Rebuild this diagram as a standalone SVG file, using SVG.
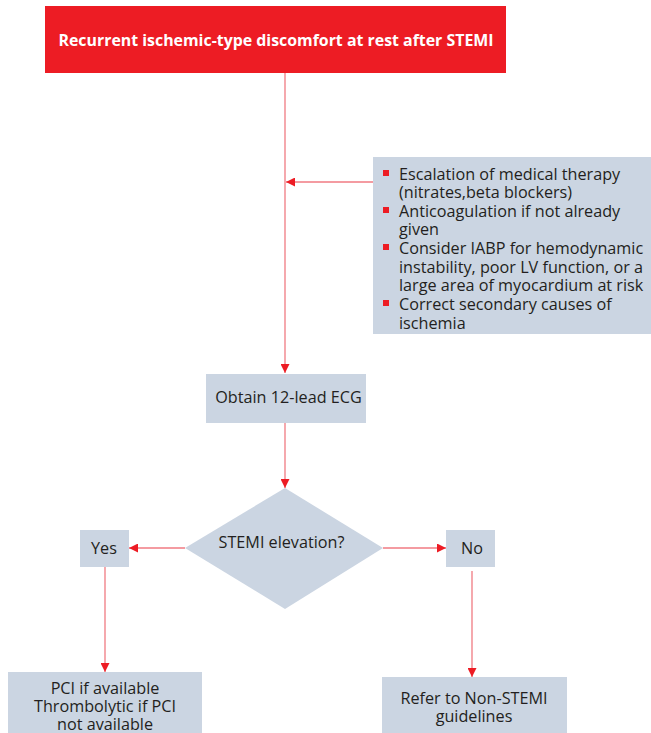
<svg xmlns="http://www.w3.org/2000/svg" width="651" height="733" viewBox="0 0 651 733">
<style>
.box{fill:#cbd5e2}
.t{font-family:"Open Sans","Noto Sans",sans-serif;font-size:16.2px;fill:#231f20}
.c{text-anchor:middle}
.ln{stroke:#f07a82;stroke-width:1.3;fill:none}
.b{fill:#ed1c24}
</style>
<defs>
<marker id="ah" viewBox="0 0 10 10" refX="10" refY="5" markerWidth="9" markerHeight="9" markerUnits="userSpaceOnUse" orient="auto">
<path d="M0,0 L10,5 L0,10 z" fill="#ed1c24"/>
</marker>
</defs>
<rect x="0" y="0" width="651" height="733" fill="#fff"/>
<g id="connectors">
<line class="ln" x1="285" y1="73" x2="285" y2="373" marker-end="url(#ah)"/>
<line class="ln" x1="373" y1="182" x2="286" y2="182" marker-end="url(#ah)"/>
<line class="ln" x1="285" y1="423" x2="285" y2="488" marker-end="url(#ah)"/>
<line class="ln" x1="185" y1="548" x2="129" y2="548" marker-end="url(#ah)"/>
<line class="ln" x1="383" y1="548" x2="446" y2="548" marker-end="url(#ah)"/>
<line class="ln" x1="105" y1="567" x2="105" y2="672" marker-end="url(#ah)"/>
<line class="ln" x1="472" y1="571" x2="472" y2="677" marker-end="url(#ah)"/>
</g>
<g id="start">
<rect x="45" y="6" width="461" height="67" fill="#ed1c24"/>
<text class="t c" x="276" y="45.5" style="font-weight:bold;fill:#fff;font-size:15.9px">Recurrent ischemic-type discomfort at rest after STEMI</text>
</g>
<g id="measures">
<rect class="box" x="373" y="157" width="278" height="177"/>
<rect class="b" x="383" y="170" width="6" height="6"/>
<rect class="b" x="383" y="207" width="6" height="6"/>
<rect class="b" x="383" y="244" width="6" height="6"/>
<rect class="b" x="383" y="300" width="6" height="6"/>
<text class="t" x="399" y="179.5">Escalation of medical therapy</text>
<text class="t" x="399" y="198">(nitrates,beta blockers)</text>
<text class="t" x="399" y="216.5">Anticoagulation if not already</text>
<text class="t" x="399" y="235">given</text>
<text class="t" x="399" y="254">Consider IABP for hemodynamic</text>
<text class="t" x="399" y="272.5">instability, poor LV function, or a</text>
<text class="t" x="399" y="291">large area of myocardium at risk</text>
<text class="t" x="399" y="310">Correct secondary causes of</text>
<text class="t" x="399" y="328.5">ischemia</text>
</g>
<g id="ecg">
<rect class="box" x="206" y="374" width="160" height="49"/>
<text class="t c" x="288.5" y="402.5">Obtain 12-lead ECG</text>
</g>
<g id="decision">
<polygon class="box" points="285,488 383,548 285,609 185,548"/>
<text class="t c" x="281.5" y="547.5">STEMI elevation?</text>
</g>
<g id="yes">
<rect class="box" x="80" y="530" width="49" height="37"/>
<text class="t c" x="104" y="554">Yes</text>
</g>
<g id="no">
<rect class="box" x="446" y="530" width="49" height="37"/>
<text class="t c" x="472" y="554">No</text>
</g>
<g id="pci">
<rect class="box" x="8" y="672" width="194" height="61"/>
<text class="t c" x="105" y="693.5">PCI if available</text>
<text class="t c" x="105" y="712">Thrombolytic if PCI</text>
<text class="t c" x="105" y="730">not available</text>
</g>
<g id="refer">
<rect class="box" x="382" y="677" width="185" height="56"/>
<text class="t c" x="474" y="703.5">Refer to Non-STEMI</text>
<text class="t c" x="474" y="722">guidelines</text>
</g>
</svg>
